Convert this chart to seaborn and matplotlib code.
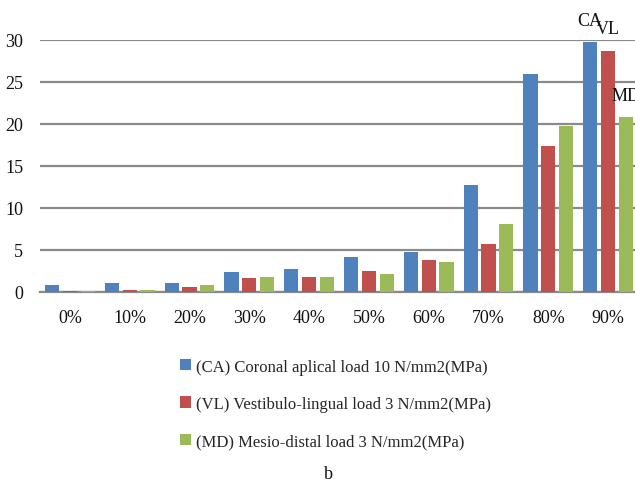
import matplotlib
matplotlib.use("Agg")
import matplotlib.pyplot as plt
import seaborn as sns
import pandas as pd
from matplotlib.patches import Patch

categories = ["0%", "10%", "20%", "30%", "40%", "50%", "60%", "70%", "80%", "90%"]
ca_values = [0.8, 1.03, 1.1, 2.38, 2.74, 4.17, 4.8, 12.78, 25.95, 29.72]
vl_values = [0.15, 0.2, 0.63, 1.7, 1.82, 2.54, 3.77, 5.67, 17.34, 28.73]
md_values = [0.1, 0.28, 0.8, 1.82, 1.8, 2.18, 3.6, 8.05, 19.8, 20.83]
series_names = ["(CA) Coronal aplical load 10 N/mm2(MPa)",
                "(VL) Vestibulo-lingual load 3 N/mm2(MPa)",
                "(MD) Mesio-distal load 3 N/mm2(MPa)"]
short_names = ["CA", "VL", "MD"]
colors = ["#4F81BD", "#C0504D", "#9BBB59"]
yticks = [0, 5, 10, 15, 20, 25, 30]

rows = []
for name, vals in zip(series_names, [ca_values, vl_values, md_values]):
    for c, v in zip(categories, vals):
        rows.append({"cat": c, "series": name, "value": v})
df = pd.DataFrame(rows)

sns.set_theme(style="white")
plt.rcParams["font.family"] = ["Liberation Serif", "DejaVu Serif"]

fig = plt.figure(figsize=(6.35, 4.81), dpi=100)
ax = fig.add_axes([40/635, 188/481, 598/635, 252/481])

sns.barplot(data=df, x="cat", y="value", hue="series", order=categories,
            hue_order=series_names, palette=colors, width=0.89, gap=0.2,
            saturation=1, ax=ax, legend=False, edgecolor="none", zorder=3)

ax.set_xlim(-0.5, 9.5)
ax.set_ylim(0, 30)
ax.set_yticks(yticks)
ax.yaxis.grid(True, color="#8a8a8a", linewidth=1.6)
ax.set_axisbelow(True)
for s in ["top", "right", "left"]:
    ax.spines[s].set_visible(False)
ax.spines["bottom"].set_color("#8a8a8a")
ax.spines["bottom"].set_linewidth(1.6)
ax.spines["bottom"].set_zorder(1)
ax.tick_params(axis="both", length=0, labelsize=13, colors="#111111")
ax.tick_params(axis="y", pad=12)
ax.tick_params(axis="x", pad=12)
ax.set_xlabel("")
ax.set_ylabel("")

# data labels for 90% group
last = len(categories) - 1
offsets = [-0.3, 0.0, 0.3]
for i, (nm, vals) in enumerate(zip(short_names, [ca_values, vl_values, md_values])):
    ax.text(last + offsets[i], vals[last] + 2.6, nm, ha="center", va="center",
            fontsize=13, color="#111111", clip_on=False)

handles = [Patch(facecolor=c, edgecolor="none") for c in colors]
fig.legend(handles, series_names, loc="upper left", bbox_to_anchor=(173/635, 1 - 353/481),
           frameon=False, fontsize=12, handlelength=0.65, handleheight=0.65,
           handletextpad=0.3, labelspacing=1.27, borderaxespad=0)

fig.text(328/635, 1 - 479/481, "b", ha="center", va="baseline", fontsize=13, color="#111111")

fig.savefig("out.png", dpi=100)
